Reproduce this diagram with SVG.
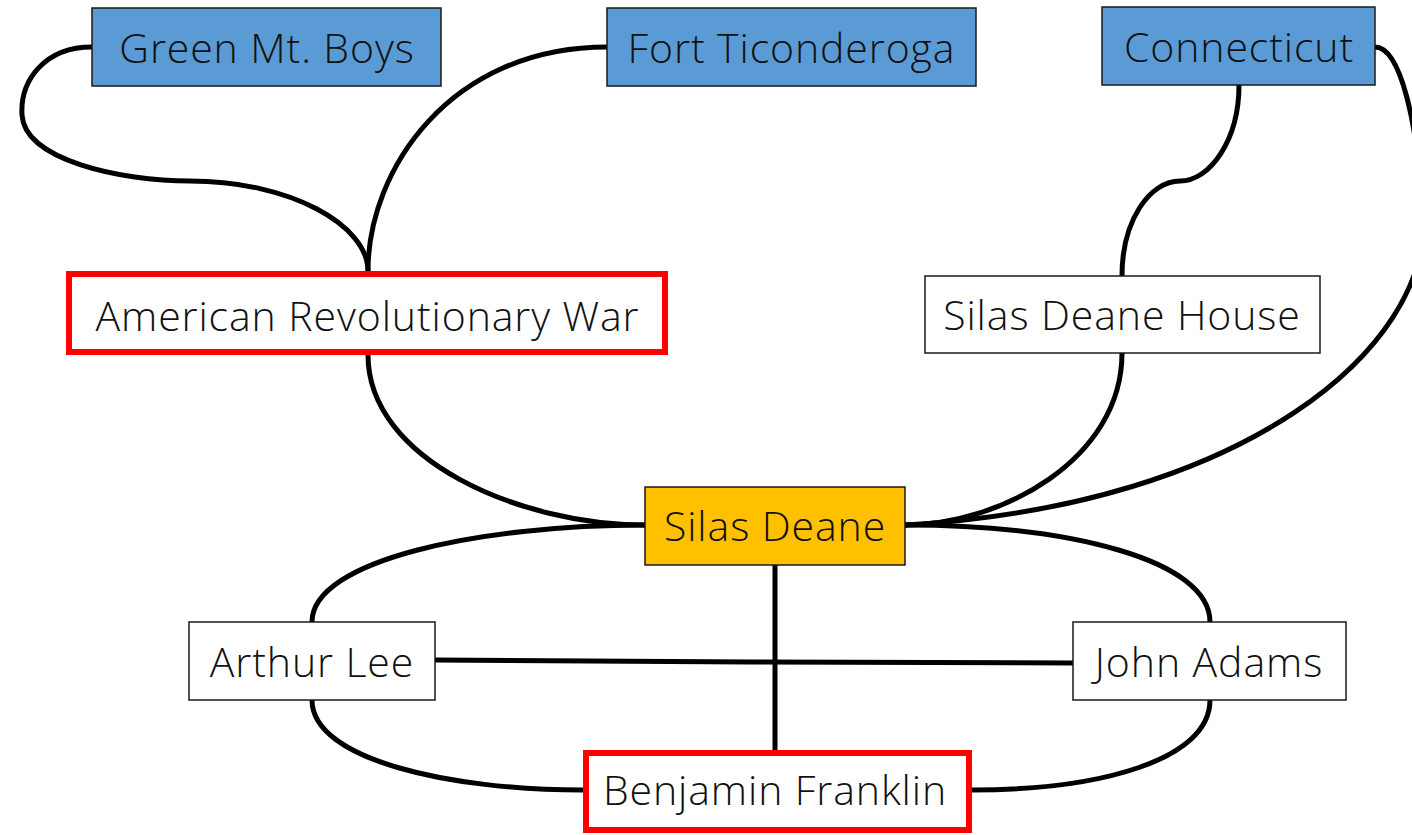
<svg xmlns="http://www.w3.org/2000/svg" width="1412" height="835" viewBox="0 0 1412 835">
  <style>
    .box { stroke: #1a1a1a; stroke-width: 1.5; }
    .blue { fill: #5B9BD5; }
    .gold { fill: #FFC000; }
    .plain { fill: #ffffff; }
    .focus { fill: #ffffff; stroke: #ff0000; stroke-width: 6; }
    .label { font-family: "Open Sans", "Liberation Sans", sans-serif; font-weight: 300; font-size: 41px; letter-spacing: 0.9px; fill: #111; text-anchor: middle; }
    .link { fill: none; stroke: #000; stroke-width: 5; stroke-linecap: round; }
  </style>
  <rect width="1412" height="835" fill="#ffffff"/>

  <g id="connectors">
    <path class="link" d="M92,47 C45,47 20,80 22,115 C25,160 120,181 190,181 C290,181 368,225 368,271"/>
    <path class="link" d="M607,47 C450,47 368,170 368,271"/>
    <path class="link" d="M1239,85 C1239,140 1210,181 1180,181 C1150,181 1122,220 1122,276"/>
    <path class="link" d="M1375,47 C1400,47 1418,120 1423,220 C1428,345 1250,505 905,525"/>
    <path class="link" d="M1122,353 C1122,460 1000,525 905,525"/>
    <path class="link" d="M368,355 C368,460 520,525 645,525"/>
    <path class="link" d="M645,525 C480,525 312,560 312,622"/>
    <path class="link" d="M905,525 C1070,525 1210,560 1210,622"/>
    <path class="link" d="M775,565 L775,750"/>
    <path class="link" d="M435,660 L750,662 L1073,663"/>
    <path class="link" d="M312,700 C312,760 450,790 583,790"/>
    <path class="link" d="M1210,700 C1210,760 1100,790 972,790"/>
  </g>

  <g id="green-mt-boys">
    <rect class="box blue" x="92" y="8" width="349" height="78"/>
    <text class="label" x="267" y="63">Green Mt. Boys</text>
  </g>
  <g id="fort-ticonderoga">
    <rect class="box blue" x="607" y="8" width="369" height="78"/>
    <text class="label" x="791.5" y="63">Fort Ticonderoga</text>
  </g>
  <g id="connecticut">
    <rect class="box blue" x="1102" y="7" width="273" height="78"/>
    <text class="label" x="1239" y="62">Connecticut</text>
  </g>
  <g id="american-revolutionary-war">
    <rect class="focus" x="69" y="274" width="596" height="78"/>
    <text class="label" x="367.5" y="331">American Revolutionary War</text>
  </g>
  <g id="silas-deane-house">
    <rect class="box plain" x="925" y="276" width="395" height="77"/>
    <text class="label" x="1122" y="330">Silas Deane House</text>
  </g>
  <g id="silas-deane">
    <rect class="box gold" x="645" y="487" width="260" height="78"/>
    <text class="label" x="775" y="541">Silas Deane</text>
  </g>
  <g id="arthur-lee">
    <rect class="box plain" x="189" y="622" width="246" height="78"/>
    <text class="label" x="312" y="677">Arthur Lee</text>
  </g>
  <g id="john-adams">
    <rect class="box plain" x="1073" y="622" width="273" height="78"/>
    <text class="label" x="1209" y="677">John Adams</text>
  </g>
  <g id="benjamin-franklin">
    <rect class="focus" x="586" y="753" width="383" height="77"/>
    <text class="label" x="775" y="805">Benjamin Franklin</text>
  </g>
</svg>
